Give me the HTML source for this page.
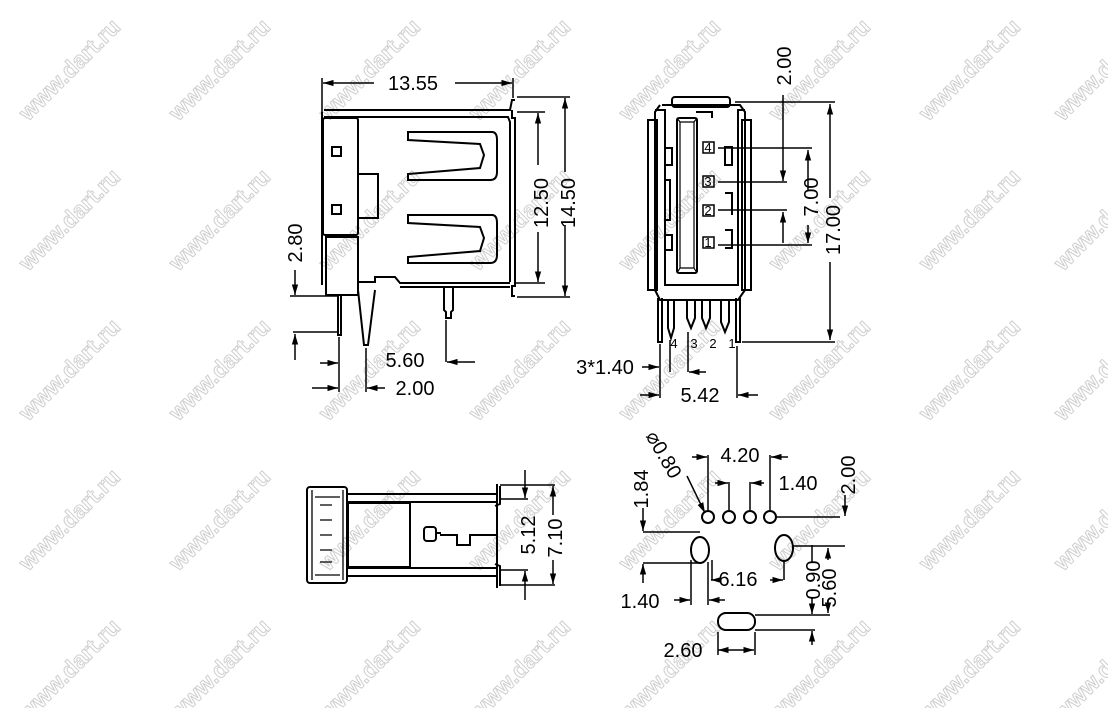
<!DOCTYPE html>
<html><head><meta charset="utf-8"><style>
html,body{margin:0;padding:0;background:#fff;width:1108px;height:708px;overflow:hidden}
svg{display:block}
.wm{font:bold 23px "Liberation Sans",sans-serif;fill:#fff;stroke:#cfcfcf;stroke-width:1}
.t{font:20px "Liberation Sans",sans-serif;fill:#000}
.s{font:13px "Liberation Sans",sans-serif;fill:#000}
</style></head><body>
<svg width="1108" height="708" viewBox="0 0 1108 708" xmlns="http://www.w3.org/2000/svg">
<defs>
<marker id="a" viewBox="0 0 10 10" refX="10" refY="5" markerWidth="7" markerHeight="7" orient="auto-start-reverse"><path d="M0,2 L10,5 L0,8z" fill="#000"/></marker>
</defs>
<g id="wm">
<g class="wm" text-anchor="middle">
<text transform="translate(75,75) rotate(-45)">www.dart.ru</text>
<text transform="translate(225,75) rotate(-45)">www.dart.ru</text>
<text transform="translate(375,75) rotate(-45)">www.dart.ru</text>
<text transform="translate(525,75) rotate(-45)">www.dart.ru</text>
<text transform="translate(675,75) rotate(-45)">www.dart.ru</text>
<text transform="translate(825,75) rotate(-45)">www.dart.ru</text>
<text transform="translate(975,75) rotate(-45)">www.dart.ru</text>
<text transform="translate(1110,75) rotate(-45)">www.dart.ru</text>
<text transform="translate(75,225) rotate(-45)">www.dart.ru</text>
<text transform="translate(225,225) rotate(-45)">www.dart.ru</text>
<text transform="translate(375,225) rotate(-45)">www.dart.ru</text>
<text transform="translate(525,225) rotate(-45)">www.dart.ru</text>
<text transform="translate(675,225) rotate(-45)">www.dart.ru</text>
<text transform="translate(825,225) rotate(-45)">www.dart.ru</text>
<text transform="translate(975,225) rotate(-45)">www.dart.ru</text>
<text transform="translate(1110,225) rotate(-45)">www.dart.ru</text>
<text transform="translate(75,375) rotate(-45)">www.dart.ru</text>
<text transform="translate(225,375) rotate(-45)">www.dart.ru</text>
<text transform="translate(375,375) rotate(-45)">www.dart.ru</text>
<text transform="translate(525,375) rotate(-45)">www.dart.ru</text>
<text transform="translate(675,375) rotate(-45)">www.dart.ru</text>
<text transform="translate(825,375) rotate(-45)">www.dart.ru</text>
<text transform="translate(975,375) rotate(-45)">www.dart.ru</text>
<text transform="translate(1110,375) rotate(-45)">www.dart.ru</text>
<text transform="translate(75,525) rotate(-45)">www.dart.ru</text>
<text transform="translate(225,525) rotate(-45)">www.dart.ru</text>
<text transform="translate(375,525) rotate(-45)">www.dart.ru</text>
<text transform="translate(525,525) rotate(-45)">www.dart.ru</text>
<text transform="translate(675,525) rotate(-45)">www.dart.ru</text>
<text transform="translate(825,525) rotate(-45)">www.dart.ru</text>
<text transform="translate(975,525) rotate(-45)">www.dart.ru</text>
<text transform="translate(1110,525) rotate(-45)">www.dart.ru</text>
<text transform="translate(75,675) rotate(-45)">www.dart.ru</text>
<text transform="translate(225,675) rotate(-45)">www.dart.ru</text>
<text transform="translate(375,675) rotate(-45)">www.dart.ru</text>
<text transform="translate(525,675) rotate(-45)">www.dart.ru</text>
<text transform="translate(675,675) rotate(-45)">www.dart.ru</text>
<text transform="translate(825,675) rotate(-45)">www.dart.ru</text>
<text transform="translate(975,675) rotate(-45)">www.dart.ru</text>
<text transform="translate(1110,675) rotate(-45)">www.dart.ru</text>
</g></g>

<g stroke="#000" fill="none" stroke-width="2">
<path d="M322,112 L322,285 M324,110 L510,110 L512,100 L515,100 M512,110 L512,118 L515,118 L515,286 L512,286 L512,296 L515,296"/>
<path d="M324,117 L508,117 L510,122 L510,282"/>
<rect x="323" y="118" width="35" height="117" rx="2"/>
<rect x="326" y="237" width="32" height="58"/>
<path d="M358,174 L378,174 L378,218 L358,218"/>
<rect x="332" y="147" width="9" height="9"/>
<rect x="332" y="205" width="9" height="9"/>
<path d="M408,132 L492,132 Q497,132 497,140 L497,172 Q497,180 490,180 L408,180 L408,174 L480,168 L484,155 L480,144 L408,140 Z"/>
<path d="M408,215 L492,215 Q497,215 497,223 L497,255 Q497,263 490,263 L408,263 L408,257 L480,251 L484,238 L480,227 L408,223 Z"/>
<path d="M359,282 L375,282 L375,277 L395,277 L400,283 L510,283 M400,287 L510,287"/>
<path d="M338,296 L338,335 L341,335 L341,296"/>
<path d="M358,290 L364,345 L368,345 L375,290"/>
<path d="M444,288 L444,310 L446,312 L446,318 L451,318 L451,312 L453,310 L453,288"/>
<path stroke-width="1.5" d="M322,78 L322,112 M513,78 L513,98"/>
<path stroke-width="1.5" d="M323,83 L374,83 M455,83 L512,83" marker-start="url(#a)" marker-end="url(#a)"/>
<path stroke-width="1.5" d="M517,97 L570,97 M517,297 L570,297 M517,112 L545,112 M515,283 L545,283"/>
<path stroke-width="1.5" d="M565,98 L565,172 M565,225 L565,296" marker-start="url(#a)" marker-end="url(#a)"/>
<path stroke-width="1.5" d="M538,113 L538,165 M538,232 L538,282" marker-start="url(#a)" marker-end="url(#a)"/>
<path stroke-width="1.5" d="M290,296 L338,296 M293,332 L338,332"/>
<path stroke-width="1.5" d="M295,270 L295,295" marker-end="url(#a)"/>
<path stroke-width="1.5" d="M295,360 L295,334" marker-end="url(#a)"/>
<path stroke-width="1.5" d="M339,337 L339,392 M366,348 L366,392 M446,320 L446,362"/>
<path stroke-width="1.5" d="M320,363 L338,363" marker-end="url(#a)"/>
<path stroke-width="1.5" d="M475,362 L447,362" marker-end="url(#a)"/>
<path stroke-width="1.5" d="M312,388 L338,388" marker-end="url(#a)"/>
<path stroke-width="1.5" d="M385,388 L367,388" marker-end="url(#a)"/>

<rect x="672" y="97" width="58" height="10" rx="3"/>
<path d="M662,105 L740,105 L745,112 L745,290 M660,105 L655,112 L655,290"/>
<rect x="648" y="120" width="9" height="170"/>
<rect x="742" y="120" width="9" height="170"/>
<path d="M655,110 L665,110 L665,285 L738,285 L738,110 L745,110"/>
<rect x="677" y="118" width="20" height="155" rx="2"/>
<path stroke-width="1.2" d="M680,122 L694,122 L694,268 L680,268 Z M677,118 L680,122 M697,118 L694,122 M677,273 L680,268 M697,273 L694,268"/>
<path d="M696,112 L712,112 L712,118"/>
<path d="M725,147 L732,147 L732,165 L725,165 Z M725,193 L732,193 L732,215 M725,230 L732,230 L732,248 L725,248 M666,148 L672,148 L672,165 L666,165 M666,180 L670,180 L670,220 L666,220 M666,235 L672,235 L672,250 L666,250"/>
<path d="M655,290 L660,300 L738,300 L745,290"/>
<path d="M658,298 L658,342 L662,342 L662,298 M668,300 L668,328 L671,338 L674,328 L674,300 M687,300 L687,318 L691,328 L695,318 L695,300 M702,300 L702,318 L706,328 L710,318 L710,300 M721,300 L721,322 L725,332 L729,322 L729,300 M736,298 L736,342 L740,342 L740,298"/>
<g stroke-width="1.5">
<rect x="703" y="142" width="11" height="11"/>
<rect x="703" y="176" width="11" height="11"/>
<rect x="703" y="205" width="11" height="11"/>
<rect x="703" y="237" width="11" height="11"/>
<path d="M735,102 L835,102 M718,148 L812,148 M718,182 L787,182 M718,210 L787,210 M718,245 L812,245 M742,342 L835,342"/>
<path d="M830,104 L830,198 M830,262 L830,340" marker-start="url(#a)" marker-end="url(#a)"/>
<path d="M808,150 L808,190 M808,225 L808,243" marker-start="url(#a)" marker-end="url(#a)"/>
<path d="M783,95 L783,181" marker-end="url(#a)"/>
<path d="M783,243 L783,212" marker-end="url(#a)"/>
<path d="M660,344 L660,398 M670,340 L670,372 M688,332 L688,372 M737,346 L737,398"/>
<path d="M642,367 L659,367" marker-end="url(#a)"/>
<path d="M706,372 L689,372" marker-end="url(#a)"/>
<path d="M640,395 L659,395" marker-end="url(#a)"/>
<path d="M758,395 L738,395" marker-end="url(#a)"/>
</g>

<rect x="307" y="487" width="40" height="96" rx="3"/>
<path stroke-width="1.3" d="M312,490 L312,580 M343,490 L343,580 M315,497 L340,497 M315,575 L340,575"/>
<path stroke-width="1.3" d="M320,505 L332,505 M320,520 L332,520 M320,535 L332,535 M320,550 L332,550 M320,562 L332,562"/>
<path d="M347,494 L497,494 M347,576 L497,576 M347,502 L497,502 M347,568 L497,568"/>
<rect x="348" y="503" width="62" height="64"/>
<path d="M497,484 L497,588 M500,486 L500,504 L495,506 M500,586 L500,566 L495,564 M497,535 L470,535 L470,545 L457,545 L457,535 L440,535"/>
<rect x="424" y="527" width="12" height="14" rx="3"/>
<path d="M436,533 L441,533"/>
<g stroke-width="1.5">
<path d="M500,485 L555,485 M500,499 L528,499 M500,570 L528,570 M500,585 L555,585"/>
<path d="M525,470 L525,498" marker-end="url(#a)"/>
<path d="M525,600 L525,571" marker-end="url(#a)"/>
<path d="M553,486 L553,515 M553,560 L553,584" marker-start="url(#a)" marker-end="url(#a)"/>
</g>

<g stroke-width="2">
<circle cx="708" cy="517" r="6"/><circle cx="729" cy="517" r="6"/><circle cx="750" cy="517" r="6"/><circle cx="770" cy="517" r="6"/>
<ellipse cx="700" cy="550" rx="9" ry="13"/>
<ellipse cx="784" cy="548" rx="9" ry="13"/>
<rect x="718" y="613" width="37" height="17" rx="8"/>
</g>
<g stroke-width="1.5">
<path d="M708,510 L708,455 M770,510 L770,455 M729,510 L729,482 M750,510 L750,482"/>
<path d="M692,457 L707,457" marker-end="url(#a)"/>
<path d="M788,457 L771,457" marker-end="url(#a)"/>
<path d="M715,483 L728,483" marker-end="url(#a)"/>
<path d="M764,483 L751,483" marker-end="url(#a)"/>
<path d="M776,517 L840,517 M643,532 L700,532 M643,563 L700,563 M793,546 L845,546 M755,615 L830,615 M755,630 L815,630"/>
<path d="M845,495 L845,516" marker-end="url(#a)"/>
<path d="M643,508 L643,531" marker-end="url(#a)"/>
<path d="M643,583 L643,564" marker-end="url(#a)"/>
<path d="M687,476 L705,513" marker-end="url(#a)"/>
<path d="M691,560 L691,605 M708,562 L708,605 M712,560 L712,580 M784,561 L784,580"/>
<path d="M674,600 L690,600" marker-end="url(#a)"/>
<path d="M725,600 L709,600" marker-end="url(#a)"/>
<path d="M717,580 L711,580" marker-end="url(#a)"/>
<path d="M770,580 L783,580" marker-end="url(#a)"/>
<path d="M812,545 L812,562 M812,598 L812,614" marker-end="url(#a)"/>
<path d="M812,645 L812,631" marker-end="url(#a)"/>
<path d="M828,548 L828,560 M828,600 L828,613" marker-start="url(#a)" marker-end="url(#a)"/>
<path d="M718,632 L718,655 M755,632 L755,655"/>
<path d="M718,650 L754,650" marker-start="url(#a)" marker-end="url(#a)"/>
</g>
</g>

<g class="t">
<text x="413" y="90" text-anchor="middle">13.55</text>
<text transform="translate(548,203) rotate(-90)" text-anchor="middle">12.50</text>
<text transform="translate(575,203) rotate(-90)" text-anchor="middle">14.50</text>
<text transform="translate(302,243) rotate(-90)" text-anchor="middle">2.80</text>
<text x="405" y="367" text-anchor="middle">5.60</text>
<text x="415" y="395" text-anchor="middle">2.00</text>
<text transform="translate(791,66) rotate(-90)" text-anchor="middle">2.00</text>
<text transform="translate(818,197) rotate(-90)" text-anchor="middle">7.00</text>
<text transform="translate(840,230) rotate(-90)" text-anchor="middle">17.00</text>
<text x="605" y="374" text-anchor="middle">3*1.40</text>
<text x="700" y="402" text-anchor="middle">5.42</text>
<text transform="translate(535,535) rotate(-90)" text-anchor="middle">5.12</text>
<text transform="translate(562,538) rotate(-90)" text-anchor="middle">7.10</text>
<text x="740" y="462" text-anchor="middle">4.20</text>
<text x="798" y="490" text-anchor="middle">1.40</text>
<text transform="translate(855,475) rotate(-90)" text-anchor="middle">2.00</text>
<text transform="translate(648,489) rotate(-90)" text-anchor="middle">1.84</text>
<text transform="translate(658,458) rotate(60)" text-anchor="middle">⌀0.80</text>
<text x="738" y="586" text-anchor="middle">6.16</text>
<text x="640" y="608" text-anchor="middle">1.40</text>
<text transform="translate(820,580) rotate(-90)" text-anchor="middle">0.90</text>
<text transform="translate(836,588) rotate(-90)" text-anchor="middle">5.60</text>
<text x="683" y="657" text-anchor="middle">2.60</text>
</g>
<g class="s" text-anchor="middle">
<text x="708" y="152">4</text><text x="708" y="186">3</text><text x="708" y="215">2</text><text x="708" y="247">1</text>
<text x="674" y="348">4</text><text x="694" y="348">3</text><text x="713" y="348">2</text><text x="732" y="348">1</text>
</g>
</svg>
</body></html>
